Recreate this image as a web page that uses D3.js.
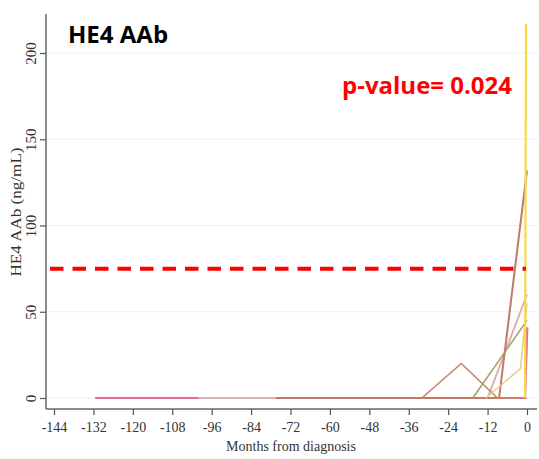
<!DOCTYPE html>
<html>
<head>
<meta charset="utf-8">
<script src="https://cdn.jsdelivr.net/npm/d3@7"></script>
<style>
  body { margin: 0; background: #fff; }
  svg { display: block; }
</style>
</head>
<body>
<svg id="chart" width="539" height="459"></svg>
<script>
// values
const xTicks = [-144, -132, -120, -108, -96, -84, -72, -60, -48, -36, -24, -12, 0];
const yTicks = [0, 50, 100, 150, 200];
const cutoff = 75;

const pinkMonths = [-131.5, -0.6, 0.1];
const pinkVals = [0, 0, 41];
const lightMonths = [-100, -12, 0];
const lightVals = [0, 0, 60];
const brownMonths = [-76.5, -8.5, 0];
const brownVals = [0, 0, 132];
const triMonths = [-32, -20, -9, 0];
const triVals = [0, 20, 0, 0];
const oliveMonths = [-16.5, 0];
const oliveVals = [0, 45];
const paleMonths = [-12.5, -2, 0];
const paleVals = [0, 17, 55];
const yellowMonths = [-0.6, -0.3];
const yellowVals = [0, 217];

const series = [
  { months: pinkMonths, vals: pinkVals, color: "#e0708c", w: 2.2 },
  { months: lightMonths, vals: lightVals, color: "#dcb3ae", w: 2 },
  { months: brownMonths, vals: brownVals, color: "#c07a68", w: 2 },
  { months: triMonths, vals: triVals, color: "#c4836a", w: 1.6 },
  { months: oliveMonths, vals: oliveVals, color: "#aa9c5e", w: 1.5 },
  { months: paleMonths, vals: paleVals, color: "#dcd28c", w: 1.5 },
  { months: yellowMonths, vals: yellowVals, color: "#f8d94a", w: 2.2 }
];

const svg = d3.select("#chart");

const x = d3.scaleLinear().domain([-144, 0]).range([54, 527]);
const y = d3.scaleLinear().domain([0, 200]).range([398, 53]);

const axisX = 46, axisY = 409;

// gridlines
svg.append("g")
  .selectAll("line")
  .data(yTicks)
  .enter()
  .append("line")
  .attr("x1", axisX)
  .attr("x2", 537)
  .attr("y1", d => y(d))
  .attr("y2", d => y(d))
  .attr("stroke", "#e8f1f1")
  .attr("stroke-width", 1.2);

// axes
const gx = svg.append("g")
  .attr("transform", `translate(0, ${axisY})`)
  .call(d3.axisBottom(x).tickValues(xTicks).tickSize(6).tickFormat(d => String(d)));
gx.select(".domain").remove();
gx.selectAll(".tick line").attr("stroke", "#555").attr("stroke-width", 1.2);
gx.selectAll(".tick text")
  .attr("y", 13)
  .attr("fill", "#333")
  .style("font-family", "'Liberation Serif', serif")
  .style("font-size", "14px");

const gy = svg.append("g")
  .attr("transform", `translate(${axisX}, 0)`)
  .call(d3.axisLeft(y).tickValues(yTicks).tickSize(6));
gy.select(".domain").remove();
gy.selectAll(".tick line").attr("stroke", "#555").attr("stroke-width", 1.2);
gy.selectAll(".tick text")
  .attr("x", null)
  .attr("dy", null)
  .attr("transform", "translate(-10, 0) rotate(-90)")
  .attr("text-anchor", "middle")
  .attr("fill", "#333")
  .style("font-family", "'Liberation Serif', serif")
  .style("font-size", "15px");

svg.append("line")
  .attr("x1", axisX).attr("x2", axisX)
  .attr("y1", 14).attr("y2", axisY)
  .attr("stroke", "#666").attr("stroke-width", 1.5);
svg.append("line")
  .attr("x1", axisX).attr("x2", 537)
  .attr("y1", axisY).attr("y2", axisY)
  .attr("stroke", "#666").attr("stroke-width", 1.5);

// axis titles
svg.append("text")
  .attr("x", 291)
  .attr("y", 451)
  .attr("text-anchor", "middle")
  .attr("fill", "#333")
  .style("font-family", "'Liberation Serif', serif")
  .style("font-size", "14px")
  .text("Months from diagnosis");

svg.append("text")
  .attr("transform", "translate(21, 212) rotate(-90)")
  .attr("text-anchor", "middle")
  .attr("fill", "#333")
  .attr("textLength", 129)
  .attr("lengthAdjust", "spacingAndGlyphs")
  .style("font-family", "'Liberation Serif', serif")
  .style("font-size", "14px")
  .text("HE4 AAb (ng/mL)");

// series lines
const line = d3.line()
  .x(d => x(d[0]))
  .y(d => y(d[1]));

svg.append("g")
  .selectAll("path")
  .data(series)
  .enter()
  .append("path")
  .attr("d", s => line(s.months.map((m, i) => [m, s.vals[i]])))
  .attr("fill", "none")
  .attr("stroke", s => s.color)
  .attr("stroke-width", s => s.w)
  .attr("stroke-linejoin", "round");

// cutoff line
svg.append("line")
  .attr("x1", 50)
  .attr("x2", 526)
  .attr("y1", y(cutoff))
  .attr("y2", y(cutoff))
  .attr("stroke", "#ff0000")
  .attr("stroke-width", 4)
  .attr("stroke-dasharray", "13.5 9");

// labels
svg.append("text")
  .attr("x", 68)
  .attr("y", 43)
  .attr("fill", "#000")
  .style("font-family", "'Open Sans', sans-serif")
  .style("font-weight", "bold")
  .style("font-size", "24px")
  .text("HE4 AAb");

svg.append("text")
  .attr("x", 512)
  .attr("y", 94)
  .attr("text-anchor", "end")
  .attr("fill", "#ff0000")
  .style("font-family", "'Open Sans', sans-serif")
  .style("font-weight", "bold")
  .style("font-size", "24px")
  .text("p-value= 0.024");
</script>
</body>
</html>
